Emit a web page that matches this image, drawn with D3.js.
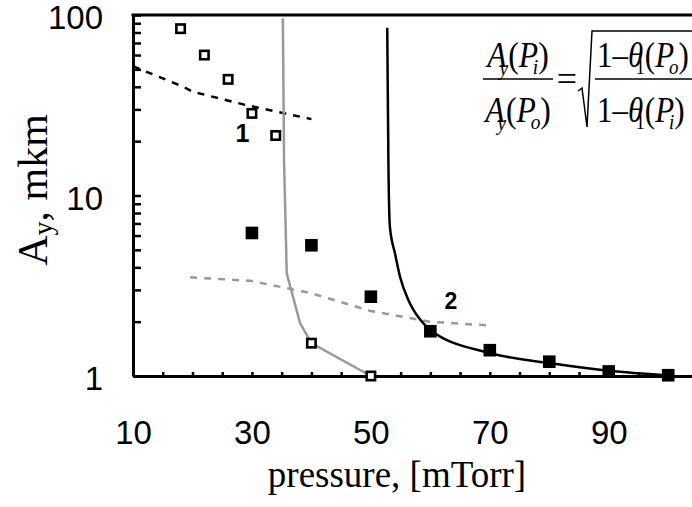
<!DOCTYPE html>
<html>
<head>
<meta charset="utf-8">
<script src="https://cdn.jsdelivr.net/npm/d3@7"></script>
<style>
    body { margin: 0; background: #fff; }
    svg { display: block; }
</style>
</head>
<body>
<div id="chart"></div>
<script>
// measured points, series 1 (open) and series 2 (filled)
const pOpen = [18, 22, 26, 30, 34, 40, 50];
const aOpen = [84, 60, 44, 28.5, 21.5, 1.52, 1.0];
const pFilled = [30, 40, 50, 60, 70, 80, 90, 100];
const aFilled = [6.2, 5.3, 2.75, 1.77, 1.39, 1.2, 1.06, 1.01];

// model curves (solid)
const pModel1 = [35.2, 35.4, 35.85, 38.1, 40, 50];
const aModel1 = [96, 15.7, 3.7, 1.96, 1.52, 1.0];
const pModel2 = [52.75, 52.95, 53.2, 54.05, 54.9, 56.3, 58.25, 60, 70, 80, 90, 100];
const aModel2 = [85, 15, 6.7, 4.78, 3.55, 2.64, 2.06, 1.8, 1.34, 1.18, 1.07, 1.01];

// dashed curves
const pDash1 = [10, 18.5, 20, 29, 40];
const aDash1 = [52, 40, 37.6, 31.7, 26.5];
const pDash2 = [19.6, 29.7, 39.7, 49.8, 59.9, 70.3];
const aDash2 = [3.52, 3.37, 2.89, 2.3, 2.0, 1.9];

const xTicks = [10, 30, 50, 70, 90];
const yTicks = [1, 10, 100];

const width = 692;
const height = 507;

const svg = d3.select('#chart')
    .append('svg')
    .attr('width', width)
    .attr('height', height);

const x = d3.scaleLinear().domain([10, 104]).range([133, 692]);
const y = d3.scaleLog().domain([1, 100]).range([376, 15]);

const zip = (xs, ys) => xs.map((v, i) => [v, ys[i]]);

const lineLinear = d3.line().x(d => x(d[0])).y(d => y(d[1]));
const lineSmooth = d3.line().x(d => x(d[0])).y(d => y(d[1])).curve(d3.curveMonotoneX);

// axes
const minorY = [];
for (let k = 1; k <= 10; k++) minorY.push(k);
for (let k = 20; k <= 100; k += 10) minorY.push(k);

const yAxis = svg.append('g')
    .attr('transform', `translate(${x(10)},0)`)
    .call(d3.axisLeft(y)
        .tickValues(minorY)
        .tickSize(-8)
        .tickSizeOuter(0)
        .tickPadding(30)
        .tickFormat(d => yTicks.includes(d) ? d : ''));

const xAxis = svg.append('g')
    .attr('transform', `translate(0,${y(1)})`)
    .call(d3.axisBottom(x)
        .tickValues(d3.range(10, 105, 5))
        .tickSize(-4)
        .tickSizeOuter(0)
        .tickPadding(45)
        .tickFormat(d => xTicks.includes(d) ? d : ''));

[yAxis, xAxis].forEach(g => {
    g.select('.domain').attr('stroke', '#000').attr('stroke-width', 3);
    g.selectAll('.tick line').attr('stroke', '#000').attr('stroke-width', 2.5);
    g.selectAll('.tick text')
        .attr('fill', '#000')
        .style('font-family', '"Liberation Sans", Arial, sans-serif')
        .style('font-size', '33px');
});
yAxis.selectAll('.tick text').attr('dy', '0.42em');

// top frame line
svg.append('line')
    .attr('x1', x(10) - 1.5).attr('x2', width)
    .attr('y1', y(100)).attr('y2', y(100))
    .attr('stroke', '#000')
    .attr('stroke-width', 3);

// curves
svg.append('path')
    .datum(zip(pDash1, aDash1))
    .attr('d', lineLinear)
    .attr('fill', 'none')
    .attr('stroke', '#000')
    .attr('stroke-width', 2.5)
    .attr('stroke-dasharray', '7,7');

svg.append('path')
    .datum(zip(pDash2, aDash2))
    .attr('d', lineLinear)
    .attr('fill', 'none')
    .attr('stroke', '#999')
    .attr('stroke-width', 2.5)
    .attr('stroke-dasharray', '7,7');

svg.append('path')
    .datum(zip(pModel1, aModel1))
    .attr('d', lineLinear)
    .attr('fill', 'none')
    .attr('stroke', '#999')
    .attr('stroke-width', 2.5);

svg.append('path')
    .datum(zip(pModel2, aModel2))
    .attr('d', lineSmooth)
    .attr('fill', 'none')
    .attr('stroke', '#000')
    .attr('stroke-width', 2.5);

// markers
svg.append('g')
    .selectAll('rect')
    .data(zip(pOpen, aOpen))
    .enter()
    .append('rect')
    .attr('x', d => x(d[0]) - 4.2)
    .attr('y', d => y(d[1]) - 4.2)
    .attr('width', 8.4)
    .attr('height', 8.4)
    .attr('fill', '#fff')
    .attr('stroke', '#000')
    .attr('stroke-width', 2.6);

svg.append('g')
    .selectAll('rect')
    .data(zip(pFilled, aFilled))
    .enter()
    .append('rect')
    .attr('x', d => x(d[0]) - 6.3)
    .attr('y', d => y(d[1]) - 6.3)
    .attr('width', 12.6)
    .attr('height', 12.6)
    .attr('fill', '#000');

// curve numbers
svg.append('text')
    .attr('x', 242.5).attr('y', 142)
    .attr('text-anchor', 'middle')
    .style('font', 'bold 25px "Liberation Sans", Arial, sans-serif')
    .text('1');

svg.append('text')
    .attr('x', 451).attr('y', 309)
    .attr('text-anchor', 'middle')
    .style('font', 'bold 23px "Liberation Sans", Arial, sans-serif')
    .text('2');

// axis titles
svg.append('text')
    .attr('x', 397).attr('y', 487)
    .attr('text-anchor', 'middle')
    .style('font', '37px "Liberation Serif", "Times New Roman", serif')
    .text('pressure, [mTorr]');

const yTitle = svg.append('text')
    .attr('transform', 'translate(47,190) rotate(-90)')
    .attr('text-anchor', 'middle')
    .style('font', '42px "Liberation Serif", "Times New Roman", serif');
yTitle.append('tspan').text('A');
yTitle.append('tspan').attr('dy', 5).style('font-size', '28px').text('y');
yTitle.append('tspan').attr('dy', -5).text(', mkm');

// formula
const serif = '"Liberation Serif", "Times New Roman", serif';
function ratioTerm(g, cx, baseline, sub) {
    const t = g.append('text')
        .attr('transform', `translate(${cx},${baseline}) scale(0.88,1)`)
        .attr('text-anchor', 'middle')
        .style('font-family', serif)
        .style('font-size', '36px');
    t.append('tspan').style('font-style', 'italic').text('A');
    t.append('tspan').attr('dx', -8).attr('dy', 8).style('font-style', 'italic').style('font-size', '22px').text('y');
    t.append('tspan').attr('dy', -8).text('(');
    t.append('tspan').style('font-style', 'italic').text('P');
    t.append('tspan').attr('dx', -6).attr('dy', 7).style('font-style', 'italic').style('font-size', '22px').text(sub);
    t.append('tspan').attr('dy', -7).text(')');
}
function thetaTerm(g, x0, baseline, sub) {
    const t = g.append('text')
        .attr('transform', `translate(${x0},${baseline}) scale(0.86,1)`)
        .style('font-family', serif)
        .style('font-size', '36px');
    t.append('tspan').text('1\u2013');
    t.append('tspan').style('font-style', 'italic').text('\u03b8');
    t.append('tspan').attr('dx', -9).attr('dy', 7).style('font-size', '22px').text('1');
    t.append('tspan').attr('dy', -7).text('(');
    t.append('tspan').style('font-style', 'italic').text('P');
    t.append('tspan').attr('dx', -6).attr('dy', 7).style('font-style', 'italic').style('font-size', '22px').text(sub);
    t.append('tspan').attr('dy', -7).text(')');
}

const formula = svg.append('g');
ratioTerm(formula, 518, 67, 'i');
ratioTerm(formula, 518, 122, 'o');
formula.append('line')
    .attr('x1', 483).attr('x2', 553).attr('y1', 79).attr('y2', 79)
    .attr('stroke', '#000').attr('stroke-width', 1.5);
formula.append('text')
    .attr('x', 567).attr('y', 91)
    .attr('text-anchor', 'middle')
    .style('font-family', serif)
    .style('font-size', '36px')
    .text('=');
formula.append('path')
    .attr('d', 'M578,91 L582,88 L587,127 L592,31 L692,31')
    .attr('fill', 'none')
    .attr('stroke', '#000')
    .attr('stroke-width', 1.5);
thetaTerm(formula, 597, 67, 'o');
thetaTerm(formula, 597, 122, 'i');
formula.append('line')
    .attr('x1', 595).attr('x2', 692).attr('y1', 79).attr('y2', 79)
    .attr('stroke', '#000').attr('stroke-width', 1.5);
</script>
</body>
</html>
